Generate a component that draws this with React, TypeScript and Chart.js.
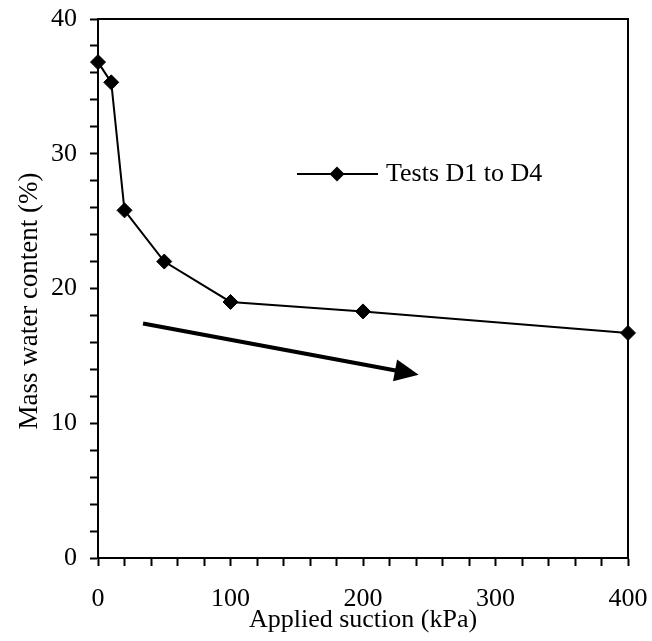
import React, { useEffect, useRef } from "react";
import { Chart, registerables } from "chart.js";

Chart.register(...registerables);

const suction = [0, 10, 20, 50, 100, 200, 400];
const waterContent = [36.8, 35.3, 25.8, 22.0, 19.0, 18.3, 16.7];
const seriesLabel = "Tests D1 to D4";
const xTitle = "Applied suction (kPa)";
const yTitle = "Mass water content (%)";
const arrowStart = { x: 34, y: 17.4 };
const arrowEnd = { x: 242, y: 13.6 };

const FONT = '"Liberation Serif", "Times New Roman", serif';

const framePlugin = {
  id: "frameAndExtras",
  afterDatasetsDraw(chart: any) {
    const { ctx, chartArea, scales } = chart;
    ctx.save();
    ctx.strokeStyle = "#000";
    ctx.lineWidth = 2;
    ctx.beginPath();
    ctx.moveTo(chartArea.left, chartArea.top);
    ctx.lineTo(chartArea.right, chartArea.top);
    ctx.lineTo(chartArea.right, chartArea.bottom);
    ctx.stroke();

    const x0 = scales.x.getPixelForValue(arrowStart.x);
    const y0 = scales.y.getPixelForValue(arrowStart.y);
    const x1 = scales.x.getPixelForValue(arrowEnd.x);
    const y1 = scales.y.getPixelForValue(arrowEnd.y);
    const ang = Math.atan2(y1 - y0, x1 - x0);
    const headLen = 24;
    const headHalf = 11;
    const bx = x1 - headLen * Math.cos(ang);
    const by = y1 - headLen * Math.sin(ang);
    ctx.lineWidth = 4;
    ctx.beginPath();
    ctx.moveTo(x0, y0);
    ctx.lineTo(bx + 2 * Math.cos(ang), by + 2 * Math.sin(ang));
    ctx.stroke();
    ctx.fillStyle = "#000";
    ctx.beginPath();
    ctx.moveTo(x1, y1);
    ctx.lineTo(bx + headHalf * Math.sin(ang), by - headHalf * Math.cos(ang));
    ctx.lineTo(bx - headHalf * Math.sin(ang), by + headHalf * Math.cos(ang));
    ctx.closePath();
    ctx.fill();

    const lx = chartArea.left + 199;
    const ly = chartArea.top + 155;
    ctx.lineWidth = 2;
    ctx.beginPath();
    ctx.moveTo(lx, ly);
    ctx.lineTo(lx + 81, ly);
    ctx.stroke();
    const cx = lx + 40;
    const r = 7.5;
    ctx.beginPath();
    ctx.moveTo(cx, ly - r);
    ctx.lineTo(cx + r, ly);
    ctx.lineTo(cx, ly + r);
    ctx.lineTo(cx - r, ly);
    ctx.closePath();
    ctx.fill();
    ctx.font = `26px ${FONT}`;
    ctx.textAlign = "left";
    ctx.textBaseline = "middle";
    ctx.fillText(seriesLabel, lx + 89, ly);

    ctx.translate(30, 301);
    ctx.rotate(-Math.PI / 2);
    ctx.textAlign = "center";
    ctx.textBaseline = "middle";
    ctx.font = `27px ${FONT}`;
    ctx.fillText(yTitle, 0, 0);
    ctx.restore();
  },
};

export default function App() {
  const ref = useRef<HTMLCanvasElement | null>(null);
  useEffect(() => {
    if (!ref.current) return;
    const chart = new Chart(ref.current, {
      type: "line",
      data: {
        datasets: [
          {
            label: seriesLabel,
            data: suction.map((s, i) => ({ x: s, y: waterContent[i] })),
            borderColor: "#000",
            backgroundColor: "#000",
            borderWidth: 2,
            pointStyle: "rectRot",
            pointRadius: 7.5,
            pointBorderWidth: 1,
            pointBackgroundColor: "#000",
            pointBorderColor: "#000",
            tension: 0,
            clip: false,
          },
        ],
      },
      options: {
        animation: false,
        responsive: false,
        maintainAspectRatio: false,
        layout: { padding: { top: 19, right: 24, left: 0, bottom: 0 } },
        plugins: { legend: { display: false }, tooltip: { enabled: false } },
        scales: {
          x: {
            type: "linear",
            min: 0,
            max: 400,
            afterFit: (s: any) => {
              s.height = 83;
              s.paddingLeft = 0;
              s.paddingRight = 0;
              s.paddingTop = 0;
              s.paddingBottom = 0;
            },
            border: { display: true, color: "#000", width: 2 },
            grid: {
              display: true,
              drawOnChartArea: false,
              drawTicks: true,
              tickLength: 8,
              tickWidth: 2,
              tickColor: "#000",
            },
            ticks: {
              stepSize: 20,
              autoSkip: false,
              maxRotation: 0,
              padding: 18,
              color: "#000",
              font: { family: FONT, size: 26 },
              callback: (v: any) => (Number(v) % 100 === 0 ? String(v) : ""),
            },
            title: {
              display: true,
              text: xTitle,
              color: "#000",
              font: { family: FONT, size: 26 },
              padding: { top: 0, bottom: 5 },
            },
          },
          y: {
            type: "linear",
            min: 0,
            max: 40,
            afterFit: (s: any) => {
              s.width = 98;
              s.paddingLeft = 0;
              s.paddingRight = 0;
              s.paddingTop = 0;
              s.paddingBottom = 0;
            },
            border: { display: true, color: "#000", width: 2 },
            grid: {
              display: true,
              drawOnChartArea: false,
              drawTicks: true,
              tickLength: 8,
              tickWidth: 2,
              tickColor: "#000",
            },
            ticks: {
              stepSize: 2,
              autoSkip: false,
              padding: 13,
              color: "#000",
              font: { family: FONT, size: 26 },
              callback: (v: any) => (Number(v) % 10 === 0 ? String(v) : ""),
            },
          },
        },
      },
      plugins: [framePlugin],
    } as any);
    return () => chart.destroy();
  }, []);
  return (
    <div style={{ position: "fixed", left: 0, top: 0, width: 652, height: 641, background: "#fff" }}>
      <canvas ref={ref} width={652} height={641} />
    </div>
  );
}
